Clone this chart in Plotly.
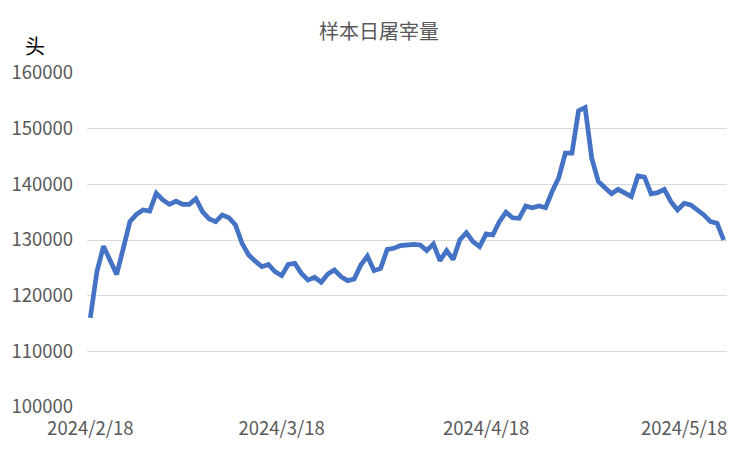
import plotly.graph_objects as go
import pandas as pd

start_date = "2024-02-18"
values = [
    116000, 124300, 128900, 126400, 123800, 128500, 133300, 134600, 135400, 135200,
    138400, 137200, 136400, 137000, 136400, 136400, 137400, 135100, 133800, 133300,
    134500, 134000, 132700, 129400, 127300, 126200, 125200, 125600, 124300, 123600,
    125600, 125800, 124000, 122800, 123300, 122400, 123900, 124600, 123400, 122700,
    123000, 125500, 127100, 124500, 124900, 128300, 128500, 129000, 129200, 129200,
    129100, 128100, 129300, 126300, 128100, 126500, 130000, 131300, 129700, 128800,
    131100, 130900, 133300, 135000, 134000, 133900, 136100, 135800, 136100, 135800,
    138700, 141200, 145600, 145600, 153200, 153800, 144700, 140500, 139400, 138300,
    139100, 138500, 137800, 141500, 141300, 138300, 138500, 139100, 136900, 135400,
    136600, 136300, 135500, 134500, 133300, 133000, 130000,
]
dates = pd.date_range(start_date, periods=len(values), freq="D")

tick_dates = ["2024-02-18", "2024-03-18", "2024-04-18", "2024-05-18"]
tick_labels = ["2024/2/18", "2024/3/18", "2024/4/18", "2024/5/18"]
y_ticks = [100000, 110000, 120000, 130000, 140000, 150000, 160000]

title_text = "样本日屠宰量"
unit_text = "头"

fig = go.Figure()
fig.add_trace(go.Scatter(
    x=dates, y=values, mode="lines",
    line=dict(color="#4472C4", width=4.7),
    hoverinfo="skip",
))

half = pd.Timedelta(hours=12)
x_range = [dates[0] - half, dates[-1] + half]

tick_font = dict(family="Noto Sans CJK SC, sans-serif", size=18.5, color="#595959")

W, H = 742, 442
fig.update_layout(
    width=W, height=H,
    margin=dict(l=79, r=23, t=65, b=43),
    paper_bgcolor="white", plot_bgcolor="white",
    showlegend=False,
    title=dict(text=title_text, x=0.5, xanchor="center", y=1 - 24 / H, yanchor="middle",
               font=dict(family="Noto Sans CJK SC", size=20, color="#595959")),
    xaxis=dict(range=x_range, tickmode="array", tickvals=tick_dates, ticktext=tick_labels,
               showgrid=False, zeroline=False, showline=False, ticks="",
               tickfont=tick_font, ticklabelstandoff=8, automargin=False),
    yaxis=dict(range=[100000, 160000], tickmode="array", tickvals=y_ticks,
               ticktext=[str(v) for v in y_ticks],
               showgrid=True, gridcolor="#D9D9D9", gridwidth=1, zeroline=False,
               showline=False, ticks="", tickfont=tick_font, ticklabelstandoff=13,
               automargin=False),
    annotations=[dict(text=unit_text, xref="paper", yref="paper",
                      x=(35 - 87) / 640, y=(407 - 45) / 334, xanchor="center", yanchor="middle",
                      showarrow=False, font=dict(family="Noto Sans CJK SC", size=20, color="#000000"))],
)

fig.write_html("out.html")
